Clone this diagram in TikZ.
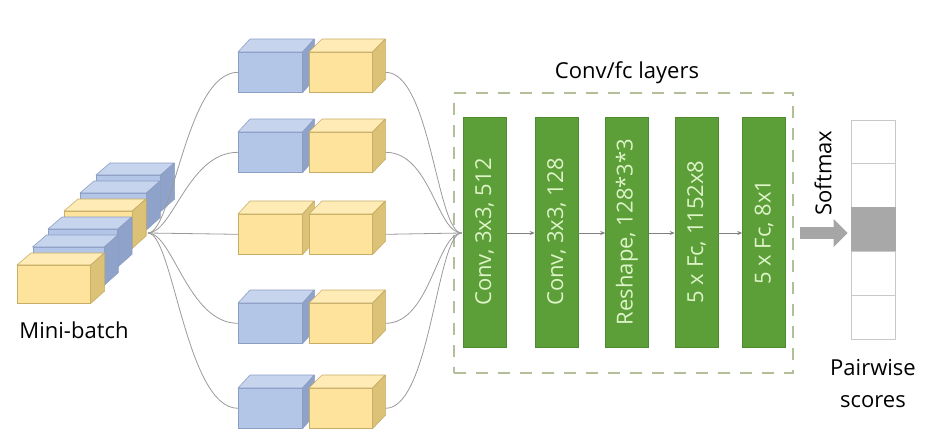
\documentclass[tikz,border=0pt]{standalone}
\usepackage{fontspec}
\setmainfont{Open Sans}
\usetikzlibrary{arrows.meta,calc}
\definecolor{bfront}{HTML}{B4C6E7}
\definecolor{btop}{HTML}{C6D4EE}
\definecolor{bside}{HTML}{8FA2C9}
\definecolor{bedge}{HTML}{8C9EC2}
\definecolor{yfront}{HTML}{FDE39C}
\definecolor{ytop}{HTML}{FEEBB6}
\definecolor{yside}{HTML}{DCC276}
\definecolor{yedge}{HTML}{C8AE66}
\definecolor{barfill}{HTML}{5C9E37}
\definecolor{baredge}{HTML}{4E8A2E}
\definecolor{bartxt}{HTML}{DDF3C8}
\definecolor{boxdash}{HTML}{B3BF98}
\definecolor{conncol}{HTML}{9A9A9A}
\definecolor{cellline}{HTML}{C8C8C8}
\definecolor{cellfill}{HTML}{A8A8A8}
\definecolor{arrowgray}{HTML}{A6A6A6}
\newcommand{\mkcube}[8]{%
  \node[draw=#8edge, fill=#8front, line width=0.6pt, inner sep=0pt,
        minimum width=#4pt, minimum height=#5pt, anchor=north west] (#1) at (#2,#3) {};
  \filldraw[draw=#8edge, fill=#8top, line width=0.6pt, line join=round]
    (#1.north west) -- ++(#6,-#7) -- ++(#4,0) -- (#1.north east) -- cycle;
  \filldraw[draw=#8edge, fill=#8side, line width=0.6pt, line join=round]
    (#1.north east) -- ++(#6,-#7) -- ++(0,#5) -- (#1.south east) -- cycle;
}
\tikzset{
  lbl/.style={font=\fontsize{22}{26}\selectfont, text=black, inner sep=0pt},
  conn/.style={draw=conncol, line width=0.8pt},
  bar/.style={draw=baredge, fill=barfill, line width=0.5pt, minimum width=43pt, minimum height=230pt, inner sep=0pt},
  bartext/.style={rotate=90, text=bartxt, font=\fontsize{22}{26}\selectfont, inner sep=0pt},
  barlink/.style={draw=gray, line width=0.8pt, -{Stealth[length=5pt,width=4pt]}},
  cell/.style={draw=cellline, line width=0.8pt, minimum width=44pt, minimum height=43.8pt, inner sep=0pt},
}
\begin{document}
\begin{tikzpicture}[x=1pt,y=-1pt]
\useasboundingbox (0,0) rectangle (930,440);
% mini-batch stack (back to front)
\mkcube{s5}{96}{175}{64}{36}{14}{12}{b}
\mkcube{s4}{80}{193}{65.8}{36.4}{14}{12}{b}
\mkcube{s3}{64}{211}{67.6}{36.8}{14}{12}{y}
\mkcube{s2}{48}{229}{69.4}{37.2}{14}{12}{b}
\mkcube{s1}{32.5}{247}{71.2}{37.6}{14}{12}{b}
\mkcube{s0}{17}{265}{73}{38}{14}{12}{y}
\node[lbl] (mbl) at (74,330) {Mini-batch};
\coordinate (mb) at (148,233);
% pairs
\mkcube{r1a}{238}{52}{64}{40}{12}{13}{b}
\mkcube{r1b}{309}{52}{63}{40}{13}{13}{y}
\mkcube{r2a}{238}{132}{64}{40}{12}{13}{b}
\mkcube{r2b}{309}{132}{63}{40}{13}{13}{y}
\mkcube{r3a}{238}{214}{64}{40}{12}{13}{y}
\mkcube{r3b}{309}{214}{63}{40}{13}{13}{y}
\mkcube{r4a}{238}{303}{64}{40}{12}{13}{b}
\mkcube{r4b}{309}{303}{63}{40}{13}{13}{y}
\mkcube{r5a}{238}{388}{64}{40}{12}{13}{b}
\mkcube{r5b}{309}{388}{63}{40}{13}{13}{y}
% conv/fc box
\node[draw=boxdash, line width=2.6pt, dash pattern=on 12pt off 10pt, minimum width=339pt, minimum height=280pt, inner sep=0pt] (box) at (623.5,233) {};
\node[lbl] (title) at (627,73) {Conv/fc layers};
\node[bar] (b1) at (484.5,232) {};
\node[bar] (b2) at (556.5,232) {};
\node[bar] (b3) at (627,232) {};
\node[bar] (b4) at (696.5,232) {};
\node[bar] (b5) at (764,232) {};
\node[bartext] (t1) at (b1) {Conv, 3x3, 512};
\node[bartext] (t2) at (b2) {Conv, 3x3, 128};
\node[bartext] (t3) at (b3) {Reshape, 128*3*3};
\node[bartext] (t4) at (b4) {5 x Fc, 1152x8};
\node[bartext] (t5) at (b5) {5 x Fc, 8x1};
\draw[barlink] ($(b1.east)+(0,1)$) -- ($(b2.west)+(0,1)$);
\draw[barlink] ($(b2.east)+(0,1)$) -- ($(b3.west)+(0,1)$);
\draw[barlink] ($(b3.east)+(0,1)$) -- ($(b4.west)+(0,1)$);
\draw[barlink] ($(b4.east)+(0,1)$) -- ($(b5.west)+(0,1)$);
\coordinate (in) at ($(b1.west)+(-1,1)$);
% left connectors
\draw[conn] (mb) .. controls +(25,0) and +(-52,0) .. (r1a.west);
\draw[conn] (mb) .. controls +(25,0) and +(-50,0) .. (r2a.west);
\draw[conn] (mb) -- (r3a.west);
\draw[conn] (mb) .. controls +(25,0) and +(-50,0) .. (r4a.west);
\draw[conn] (mb) .. controls +(25,0) and +(-52,0) .. (r5a.west);
% right connectors
\coordinate (o1) at ($(r1b.east)+(13,0)$);
\coordinate (o2) at ($(r2b.east)+(13,0)$);
\coordinate (o3) at ($(r3b.east)+(13,0)$);
\coordinate (o4) at ($(r4b.east)+(13,0)$);
\coordinate (o5) at ($(r5b.east)+(13,0)$);
\draw[conn] (o1) .. controls +(45,0) and +(-25,0) .. (in);
\draw[conn] (o2) .. controls +(45,0) and +(-25,0) .. (in);
\draw[conn] (o3) -- (in);
\draw[conn] (o4) .. controls +(45,0) and +(-25,0) .. (in);
\draw[conn] (o5) .. controls +(45,0) and +(-25,0) .. (in);
% scores
\node[cell] (c1) at (873,141.9) {};
\node[cell] (c2) at (873,185.7) {};
\node[cell, fill=cellfill, draw=cellfill] (c3) at (873,229.5) {};
\node[cell] (c4) at (873,273.3) {};
\node[cell] (c5) at (873,317.1) {};
\coordinate (sa) at (800,233);
\draw[draw=arrowgray, line width=12pt, -{Triangle[length=14pt,width=27pt]}, shorten >=3pt] (sa) -- (c3.west |- sa);
\node[lbl, rotate=90] (smx) at (823,173) {Softmax};
\node[lbl] (pw) at (873,368) {Pairwise};
\node[lbl] (sc) at (873,402) {scores};
\end{tikzpicture}
\end{document}
